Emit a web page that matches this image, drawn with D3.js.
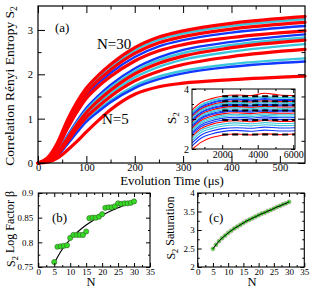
<!DOCTYPE html>
<html>
<head>
<meta charset="utf-8">
<script src="https://cdn.jsdelivr.net/npm/d3@7"></script>
<style>
body { margin: 0; background: #fff; }
svg { display: block; font-family: "Liberation Serif", "DejaVu Serif", serif; }
</style>
</head>
<body>
<svg id="chart" width="311" height="289"></svg>
<script>
// ---- panel (a): S2 vs evolution time ----
const mainTimes = [0, 20, 40, 60, 80, 100, 125, 150, 200, 250, 300, 400, 552];
const mainColors = ['red', 'cyan', 'red', 'blue', 'red', 'blue', 'cyan', 'red', 'cyan', 'red', 'cyan', 'blue', 'red'];
const mainCurves = [
    [0, 0.12, 0.45, 0.95, 1.36, 1.69, 1.98, 2.22, 2.60, 2.84, 2.98, 3.15, 3.30],
    [0, 0.11, 0.42, 0.90, 1.31, 1.64, 1.93, 2.16, 2.54, 2.78, 2.92, 3.09, 3.24],
    [0, 0.10, 0.40, 0.86, 1.26, 1.58, 1.87, 2.10, 2.47, 2.71, 2.85, 3.02, 3.17],
    [0, 0.09, 0.37, 0.81, 1.20, 1.52, 1.80, 2.03, 2.39, 2.63, 2.77, 2.94, 3.09],
    [0, 0.08, 0.34, 0.76, 1.14, 1.46, 1.73, 1.95, 2.30, 2.53, 2.67, 2.83, 2.98],
    [0, 0.06, 0.27, 0.60, 0.94, 1.24, 1.52, 1.76, 2.13, 2.38, 2.55, 2.73, 2.90],
    [0, 0.055, 0.25, 0.57, 0.90, 1.19, 1.47, 1.70, 2.07, 2.32, 2.48, 2.66, 2.83],
    [0, 0.05, 0.23, 0.54, 0.86, 1.14, 1.41, 1.64, 2.01, 2.25, 2.41, 2.60, 2.77],
    [0, 0.045, 0.21, 0.50, 0.81, 1.08, 1.35, 1.57, 1.93, 2.17, 2.33, 2.51, 2.68],
    [0, 0.04, 0.19, 0.47, 0.77, 1.03, 1.28, 1.50, 1.85, 2.07, 2.22, 2.40, 2.56],
    [0, 0.035, 0.17, 0.43, 0.70, 0.96, 1.20, 1.41, 1.74, 1.95, 2.08, 2.23, 2.36],
    [0, 0.03, 0.16, 0.41, 0.68, 0.93, 1.16, 1.37, 1.69, 1.89, 2.02, 2.17, 2.29],
    [0, 0.02, 0.11, 0.28, 0.48, 0.70, 0.96, 1.20, 1.55, 1.72, 1.80, 1.88, 1.96]
];
const mainXTicks = [0, 100, 200, 300, 400, 500];
const mainYTicks = [0, 1, 2, 3];

// ---- inset: long-time S2, one curve per N ----
const insetTimes = [300, 800, 1400, 2000, 2800, 3600, 4400, 5200, 6100];
const insetN = [5, 6, 7, 8, 9, 10, 11, 12, 13, 14, 15, 16, 17, 18, 19, 20, 21, 22, 23, 24, 25, 26, 27, 28, 29, 30];
const insetColors = ['red', 'blue', 'blue', 'cyan', 'cyan', 'red', 'blue', 'blue', 'cyan', 'cyan', 'red', 'blue', 'blue',
    'cyan', 'cyan', 'red', 'blue', 'blue', 'cyan', 'cyan', 'red', 'blue', 'blue', 'cyan', 'cyan', 'red'];
const insetCurves = [
    [1.98, 2.22, 2.38, 2.46, 2.50, 2.47, 2.51, 2.48, 2.50],
    [2.10, 2.36, 2.50, 2.58, 2.62, 2.59, 2.63, 2.60, 2.61],
    [2.20, 2.46, 2.60, 2.68, 2.71, 2.69, 2.73, 2.70, 2.71],
    [2.28, 2.55, 2.68, 2.76, 2.80, 2.77, 2.81, 2.78, 2.79],
    [2.36, 2.62, 2.75, 2.83, 2.87, 2.84, 2.88, 2.85, 2.86],
    [2.42, 2.68, 2.82, 2.90, 2.94, 2.91, 2.95, 2.92, 2.93],
    [2.49, 2.74, 2.88, 2.96, 3.00, 2.97, 3.01, 2.98, 2.99],
    [2.55, 2.80, 2.94, 3.02, 3.06, 3.03, 3.07, 3.04, 3.05],
    [2.60, 2.85, 2.99, 3.07, 3.11, 3.08, 3.12, 3.09, 3.10],
    [2.65, 2.90, 3.04, 3.12, 3.16, 3.13, 3.17, 3.14, 3.15],
    [2.70, 2.95, 3.09, 3.17, 3.21, 3.18, 3.22, 3.19, 3.20],
    [2.75, 3.00, 3.14, 3.22, 3.26, 3.23, 3.27, 3.24, 3.25],
    [2.79, 3.04, 3.18, 3.26, 3.30, 3.27, 3.31, 3.28, 3.29],
    [2.83, 3.08, 3.22, 3.30, 3.34, 3.31, 3.35, 3.32, 3.33],
    [2.87, 3.12, 3.26, 3.34, 3.38, 3.35, 3.39, 3.36, 3.37],
    [2.91, 3.16, 3.30, 3.38, 3.42, 3.39, 3.43, 3.40, 3.41],
    [2.95, 3.20, 3.34, 3.42, 3.46, 3.43, 3.47, 3.44, 3.45],
    [2.98, 3.23, 3.37, 3.45, 3.49, 3.46, 3.50, 3.47, 3.48],
    [3.02, 3.27, 3.41, 3.49, 3.53, 3.50, 3.54, 3.51, 3.52],
    [3.05, 3.30, 3.44, 3.52, 3.56, 3.53, 3.57, 3.54, 3.55],
    [3.09, 3.34, 3.48, 3.56, 3.60, 3.57, 3.61, 3.58, 3.59],
    [3.13, 3.38, 3.52, 3.60, 3.64, 3.61, 3.65, 3.62, 3.63],
    [3.16, 3.41, 3.55, 3.63, 3.67, 3.64, 3.68, 3.65, 3.66],
    [3.20, 3.45, 3.59, 3.67, 3.71, 3.68, 3.72, 3.69, 3.70],
    [3.23, 3.48, 3.62, 3.70, 3.74, 3.71, 3.75, 3.72, 3.73],
    [3.30, 3.55, 3.68, 3.76, 3.80, 3.78, 3.86, 3.80, 3.78]
];
const dashLevels = [2.48, 2.97, 3.28, 3.46, 3.59, 3.76];
const dashStart = 2000;
const insetXTicks = [2000, 4000, 6000];
const insetYTicks = [2, 3, 4];

// ---- panels (b) and (c): per-N fit results ----
const nValues = [5, 6, 7, 8, 9, 10, 11, 12, 13, 14, 15, 16, 17, 18, 19, 20, 21, 22, 23, 24, 25, 26, 27, 28, 29, 30];
const betaValues = [0.760, 0.791, 0.792, 0.793, 0.794, 0.809, 0.815, 0.815, 0.815, 0.815, 0.822, 0.849, 0.850, 0.850, 0.852,
    0.857, 0.870, 0.871, 0.871, 0.873, 0.879, 0.878, 0.879, 0.879, 0.880, 0.883];
const betaFitN = [5, 7.5, 10, 12.5, 15, 17.5, 20, 22.5, 25, 27.5, 30];
const betaFit = [0.758, 0.786, 0.806, 0.822, 0.835, 0.846, 0.855, 0.863, 0.870, 0.877, 0.883];
const satValues = [2.49, 2.60, 2.70, 2.78, 2.85, 2.92, 2.98, 3.04, 3.09, 3.14, 3.19, 3.24, 3.28, 3.32, 3.36, 3.40,
    3.44, 3.47, 3.51, 3.54, 3.58, 3.62, 3.65, 3.69, 3.72, 3.76];
const nTicks = [0, 5, 10, 15, 20, 25, 30, 35];
const betaTicks = [0.75, 0.8, 0.85, 0.9];
const satTicks = [2, 2.5, 3, 3.5, 4];

const palette = {red: '#ff0000', blue: '#1238ff', cyan: '#3cc6dc'};
const font = '"Liberation Serif", "DejaVu Serif", serif';

const svg = d3.select('#chart');

const minorOf = (ticks, n) => {
    const out = [];
    for (let i = 0; i < ticks.length - 1; i++) {
        const step = (ticks[i + 1] - ticks[i]) / n;
        for (let k = 1; k < n; k++) {
            out.push(ticks[i] + k * step);
        }
    }
    return out;
};

/*
 * xmgrace style box: ticks inward on all four sides, labels only
 * bottom/left. Minor ticks sit halfway between majors.
 */
const drawFrame = (g, x, y, o) => {
    const [x0, x1] = x.range();
    const [y0, y1] = y.range();
    const clean = (sel) => {
        sel.select('.domain').remove();
        sel.attr('font-family', font).attr('font-size', o.fontSize);
        sel.selectAll('line').attr('stroke', '#000').attr('stroke-width', 1);
    };
    const xMinor = o.xMinor || minorOf(o.xTicks, 2);
    const yMinor = o.yMinor || minorOf(o.yTicks, 2);

    g.append('g').attr('transform', `translate(0,${y0})`)
    .call(d3.axisBottom(x).tickValues(o.xTicks).tickSize(-o.len).tickPadding(o.xPad).tickFormat(o.xFmt)).call(clean);
    g.append('g').attr('transform', `translate(0,${y0})`)
    .call(d3.axisBottom(x).tickValues(xMinor).tickSize(-o.len / 2).tickFormat('')).call(clean);
    g.append('g').attr('transform', `translate(0,${y1})`)
    .call(d3.axisTop(x).tickValues(o.xTicks).tickSize(-o.len).tickFormat('')).call(clean);
    g.append('g').attr('transform', `translate(0,${y1})`)
    .call(d3.axisTop(x).tickValues(xMinor).tickSize(-o.len / 2).tickFormat('')).call(clean);

    g.append('g').attr('transform', `translate(${x0},0)`)
    .call(d3.axisLeft(y).tickValues(o.yTicks).tickSize(-o.len).tickPadding(o.yPad).tickFormat(o.yFmt)).call(clean);
    g.append('g').attr('transform', `translate(${x0},0)`)
    .call(d3.axisLeft(y).tickValues(yMinor).tickSize(-o.len / 2).tickFormat('')).call(clean);
    g.append('g').attr('transform', `translate(${x1},0)`)
    .call(d3.axisRight(y).tickValues(o.yTicks).tickSize(-o.len).tickFormat('')).call(clean);
    g.append('g').attr('transform', `translate(${x1},0)`)
    .call(d3.axisRight(y).tickValues(yMinor).tickSize(-o.len / 2).tickFormat('')).call(clean);

    g.append('rect')
    .attr('x', x0).attr('y', y1)
    .attr('width', x1 - x0).attr('height', y0 - y1)
    .attr('fill', 'none').attr('stroke', '#000').attr('stroke-width', o.frameWidth || 1.2);
};

const addText = (x, y, str, size, opts = {}) => {
    const t = svg.append('text')
    .attr('x', x).attr('y', y)
    .attr('font-family', font).attr('font-size', size)
    .attr('text-anchor', opts.anchor || 'start')
    .attr('fill', '#000');
    if (str) {
        t.text(str);
    }
    if (opts.rotate) {
        t.attr('transform', `rotate(-90,${x},${y})`);
    }
    return t;
};

// subscript helper for "S2"
const withSub = (t, before, sub, after) => {
    t.append('tspan').text(before);
    t.append('tspan').attr('font-size', '0.7em').attr('dy', '0.3em').text(sub);
    t.append('tspan').attr('dy', '-0.3em').text(after);
};

// ---------------- panel (a) ----------------
const mx = d3.scaleLinear().domain([0, 552]).range([38, 305]);
const my = d3.scaleLinear().domain([0, 3.54]).range([163, 6]);
const ga = svg.append('g');

const mainLine = d3.line()
.x((d) => mx(d[0]))
.y((d) => my(d[1]))
.curve(d3.curveMonotoneX);

const mainOrder = d3.range(mainCurves.length).sort((a, b) => (mainColors[a] === 'red') - (mainColors[b] === 'red'));
for (const i of mainOrder) {
    const pts = mainTimes.map((t, k) => [t, mainCurves[i][k]]);
    ga.append('path')
    .attr('d', mainLine(pts))
    .attr('fill', 'none')
    .attr('stroke', palette[mainColors[i]])
    .attr('stroke-width', mainColors[i] === 'red' ? 3.2 : 2.4)
    .attr('stroke-linecap', 'round');
}

drawFrame(ga, mx, my, {
    xTicks: mainXTicks, yTicks: mainYTicks, len: 7, fontSize: 10.5,
    xPad: 0.5, yPad: 5, xFmt: d3.format('d'), yFmt: d3.format('d')
});

addText(55, 32, '(a)', 13);
addText(97, 49, 'N=30', 15);
addText(102, 124, 'N=5', 15);
addText(172, 184.8, 'Evolution Time (μs)', 12.8, {anchor: 'middle'});
withSub(addText(14, 86, '', 13.5, {anchor: 'middle', rotate: true}), 'Correlation Rényi Entropy S', '2', '');

// ---------------- inset ----------------
const ix = d3.scaleLinear().domain([300, 6100]).range([192, 295]);
const iy = d3.scaleLinear().domain([2, 4]).range([149, 89]);
const gi = svg.append('g');

gi.append('rect')
.attr('x', 192).attr('y', 89)
.attr('width', 103).attr('height', 60)
.attr('fill', '#fff');

svg.append('clipPath').attr('id', 'insetClip')
.append('rect').attr('x', 192).attr('y', 89).attr('width', 103).attr('height', 60);

const gic = gi.append('g').attr('clip-path', 'url(#insetClip)');
const insetLine = d3.line()
.x((d) => ix(d[0]))
.y((d) => iy(d[1]))
.curve(d3.curveMonotoneX);

insetCurves.forEach((vals, i) => {
    const pts = insetTimes.map((t, k) => [t, vals[k]]);
    gic.append('path')
    .attr('d', insetLine(pts))
    .attr('fill', 'none')
    .attr('stroke', palette[insetColors[i]])
    .attr('stroke-width', 1.1);
});

for (const lv of dashLevels) {
    gic.append('line')
    .attr('x1', ix(dashStart)).attr('x2', ix(6100))
    .attr('y1', iy(lv)).attr('y2', iy(lv))
    .attr('stroke', '#000')
    .attr('stroke-width', 2)
    .attr('stroke-dasharray', '6,4');
}

drawFrame(gi, ix, iy, {
    xTicks: insetXTicks, yTicks: insetYTicks, len: 4, fontSize: 10,
    xMinor: [1000, 3000, 5000], yMinor: [2.5, 3.5],
    xPad: 2, yPad: 3, xFmt: d3.format('d'), yFmt: d3.format('d'), frameWidth: 1
});
withSub(addText(176, 118, '', 13, {anchor: 'middle', rotate: true}), 'S', '2', '');

// ---------------- panel (b) ----------------
const bx = d3.scaleLinear().domain([0, 35]).range([38.3, 150]);
const by = d3.scaleLinear().domain([0.75, 0.9]).range([267, 193]);
const gb = svg.append('g');

gb.append('path')
.attr('d', d3.line().x((d) => bx(d[0])).y((d) => by(d[1])).curve(d3.curveMonotoneX)(betaFitN.map((n, k) => [n, betaFit[k]])))
.attr('fill', 'none').attr('stroke', '#000').attr('stroke-width', 1.2);

gb.selectAll('circle')
.data(nValues.map((n, k) => [n, betaValues[k]]))
.enter()
.append('circle')
.attr('cx', (d) => bx(d[0]))
.attr('cy', (d) => by(d[1]))
.attr('r', 2.6)
.attr('fill', '#33dd22')
.attr('stroke', '#3a5a30')
.attr('stroke-width', 0.6);

drawFrame(gb, bx, by, {
    xTicks: nTicks, yTicks: betaTicks, len: 4, fontSize: 9,
    xPad: 1.5, yPad: 5, xFmt: d3.format('d'), yFmt: (d) => String(+d.toFixed(2)), frameWidth: 1.1
});
addText(52, 222, '(b)', 13);
addText(91, 286, 'N', 12.5, {anchor: 'middle'});
withSub(addText(15, 229, '', 12, {anchor: 'middle', rotate: true}), 'S', '2', ' Log Factor β');

// ---------------- panel (c) ----------------
const cx = d3.scaleLinear().domain([0, 35]).range([197.7, 304.3]);
const cy = d3.scaleLinear().domain([2, 4]).range([267, 193]);
const gc = svg.append('g');

gc.selectAll('circle')
.data(nValues.map((n, k) => [n, satValues[k]]))
.enter()
.append('circle')
.attr('cx', (d) => cx(d[0]))
.attr('cy', (d) => cy(d[1]))
.attr('r', 2.1)
.attr('fill', '#33dd22')
.attr('stroke', '#c9a3b4')
.attr('stroke-width', 0.7);

gc.append('path')
.attr('d', d3.line().x((d) => cx(d[0])).y((d) => cy(d[1])).curve(d3.curveMonotoneX)(nValues.map((n, k) => [n, satValues[k]])))
.attr('fill', 'none').attr('stroke', '#000').attr('stroke-width', 1);

drawFrame(gc, cx, cy, {
    xTicks: nTicks, yTicks: satTicks, len: 4, fontSize: 9,
    xPad: 1.5, yPad: 3, xFmt: d3.format('d'), yFmt: (d) => String(d), frameWidth: 1.1
});
addText(209, 222, '(c)', 13);
addText(252, 286, 'N', 12.5, {anchor: 'middle'});
withSub(addText(175, 228, '', 12, {anchor: 'middle', rotate: true}), 'S', '2', ' Saturation');
</script>
</body>
</html>
